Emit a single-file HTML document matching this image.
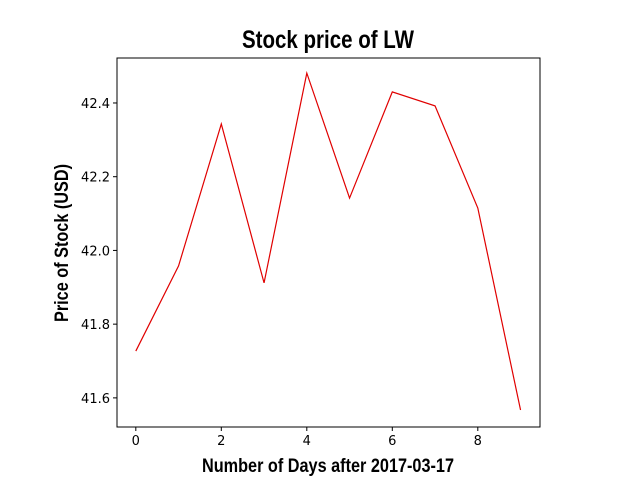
<!DOCTYPE html>
<html><head><meta charset="utf-8"><style>
body{margin:0;background:#fff;}
svg{display:block;font-family:"DejaVu Sans","Liberation Sans",sans-serif;}
.t{font-family:"Liberation Sans Narrow","Liberation Sans",sans-serif;font-weight:bold;}
</style></head><body>
<svg id="chart" width="640" height="480"></svg>
<script>
const days=[0,1,2,3,4,5,6,7,8,9];
const prices=[41.727,41.958,42.343,41.912,42.481,42.142,42.430,42.392,42.115,41.567];
const xTicks=[0,2,4,6,8];
const yTicks=[41.6,41.8,42.0,42.2,42.4];
const yTickLabels=["41.6","41.8","42.0","42.2","42.4"];
const L=117,R=540,T=58,B=427;
const xMin=-0.44,xMax=9.455,yMin=41.521,yMax=42.522;
const sx=v=>L+(v-xMin)/(xMax-xMin)*(R-L);
const sy=v=>B-(v-yMin)/(yMax-yMin)*(B-T);
const NS="http://www.w3.org/2000/svg";
const svg=document.getElementById('chart');
function mk(tag,attrs,txt){const e=document.createElementNS(NS,tag);for(const k in attrs)e.setAttribute(k,attrs[k]);if(txt!==undefined)e.textContent=txt;svg.appendChild(e);return e;}
let e=mk('rect',{x:L,y:T,width:R-L,height:B-T,fill:'none',stroke:'#000','stroke-width':1});


xTicks.forEach(v=>{
  const x=sx(v);
  let t=mk('line',{x1:x,x2:x,y1:B,y2:B+4,stroke:'#000'});
  
  
  let l=mk('text',{x:x,y:B+18,'font-size':13,'text-anchor':'middle'},String(v));
  
  
});
yTicks.forEach((v,i)=>{
  const y=sy(v);
  let t=mk('line',{x1:L-4,x2:L,y1:y,y2:y,stroke:'#000'});
  
  
  let l=mk('text',{x:L-7,y:y+5,'font-size':13,'text-anchor':'end'},yTickLabels[i]);
  
  
});
const pts=days.map((d,i)=>sx(d)+','+sy(prices[i])).join(' ');
let p=mk('polyline',{points:pts,fill:'none',stroke:'#e00000','stroke-width':1.2});


let ti=mk('text',{x:328,y:48,'font-size':25,'text-anchor':'middle','class':'t','textLength':172,'lengthAdjust':'spacingAndGlyphs'},'Stock price of LW');


let xl=mk('text',{x:328,y:472,'font-size':19,'text-anchor':'middle','class':'t','textLength':252,'lengthAdjust':'spacingAndGlyphs'},'Number of Days after 2017-03-17');


let yl=mk('text',{x:0,y:0,'font-size':19,'text-anchor':'middle','class':'t','textLength':158,'lengthAdjust':'spacingAndGlyphs',transform:'translate(68,243) rotate(-90)'},'Price of Stock (USD)');


</script>
</body></html>
